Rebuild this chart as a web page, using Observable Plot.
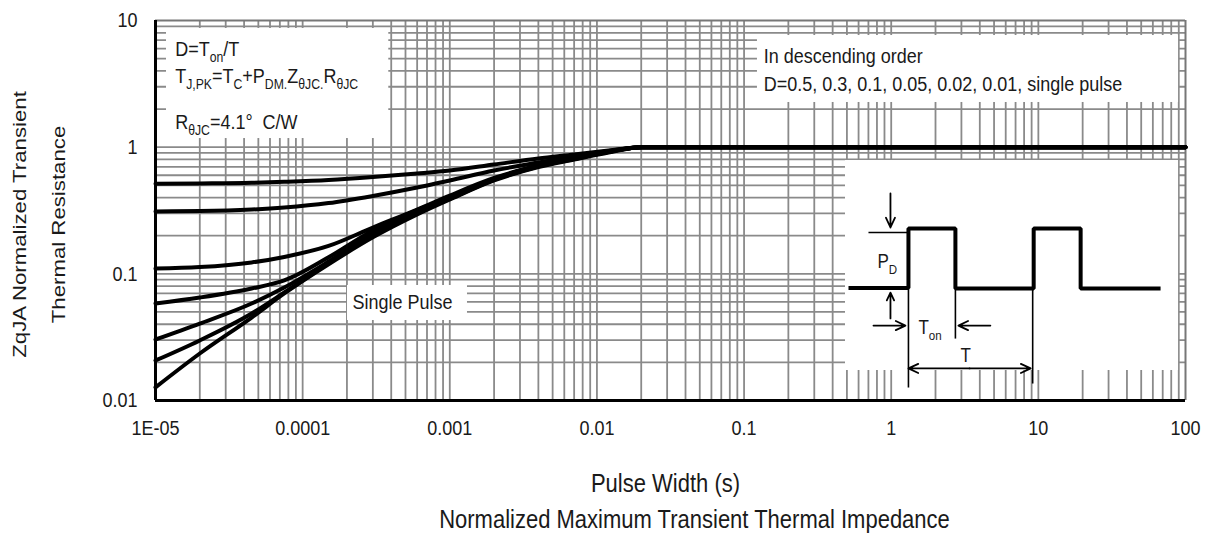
<!DOCTYPE html>
<html>
<head>
<meta charset="utf-8">
<script src="https://cdn.jsdelivr.net/npm/d3@7"></script>
<script src="https://cdn.jsdelivr.net/npm/@observablehq/plot@0.6"></script>
<style>
  html, body { margin: 0; padding: 0; background: #fff; overflow: hidden; }
  #chart { position: relative; width: 1208px; height: 533px; overflow: hidden; }
  #chart svg { display: block; }
  #chart svg text { white-space: pre; }
  #caption {
    position: absolute; left: 0; top: 505px; width: 1389px; text-align: center;
    font: 22px "Liberation Sans", Arial, Helvetica, sans-serif; color: #1a1a1a;
    line-height: 30px; transform: scaleY(1.17); transform-origin: 50% 50%; white-space: nowrap;
  }
</style>
</head>
<body>
<div id="chart"></div>
<script>
// ---------- data ----------
const xTicks = [1e-5, 1e-4, 1e-3, 1e-2, 1e-1, 1, 10, 100];
const xTickLabels = ["1E-05", "0.0001", "0.001", "0.01", "0.1", "1", "10", "100"];
const yTicks = [0.01, 0.1, 1, 10];
const yTickLabels = ["0.01", "0.1", "1", "10"];

const pulseWidth = [1e-5, 2e-5, 4.5e-5, 7.5e-5, 1.5e-4, 3e-4, 6e-4, 1e-3, 2e-3, 4e-3, 7e-3, 1.2e-2, 2e-2, 3e-2, 100];
const seriesNames = ["D=0.5", "D=0.3", "D=0.1", "D=0.05", "D=0.02", "D=0.01", "Single pulse"];
const zD050 = [0.514, 0.517, 0.523, 0.533, 0.551, 0.581, 0.620, 0.655, 0.730, 0.814, 0.875, 0.941, 1, 1, 1];
const zD030 = [0.311, 0.313, 0.322, 0.334, 0.362, 0.412, 0.480, 0.546, 0.655, 0.757, 0.844, 0.933, 1, 1, 1];
const zD010 = [0.110, 0.113, 0.123, 0.136, 0.166, 0.232, 0.322, 0.415, 0.571, 0.717, 0.829, 0.924, 1, 1, 1];
const zD005 = [0.0583, 0.0650, 0.0766, 0.0886, 0.135, 0.220, 0.319, 0.401, 0.561, 0.717, 0.821, 0.924, 1, 1, 1];
const zD002 = [0.0303, 0.0405, 0.0583, 0.0780, 0.125, 0.208, 0.311, 0.393, 0.556, 0.710, 0.814, 0.920, 1, 1, 1];
const zD001 = [0.0207, 0.0298, 0.0486, 0.0712, 0.121, 0.201, 0.302, 0.390, 0.551, 0.704, 0.807, 0.916, 1, 1, 1];
const zSingle = [0.0127, 0.0235, 0.0452, 0.0700, 0.119, 0.194, 0.294, 0.386, 0.546, 0.697, 0.799, 0.908, 1, 1, 1];
const seriesValues = [zD050, zD030, zD010, zD005, zD002, zD001, zSingle];

// annotation texts (_{...} = subscript)
const noteLeft = ["D=T_{on}/T", "T_{J,PK}=T_{C}+P_{DM.}Z_{θJC.}R_{θJC}", "R_{θJC}=4.1°  C/W"];
const noteRight = ["In descending order", "D=0.5, 0.3, 0.1, 0.05, 0.02, 0.01, single pulse"];
const singlePulseLabel = "Single Pulse";
const xTitle = "Pulse Width (s)";
const yTitle = ["ZqJA Normalized Transient", "Thermal Resistance"];
const captionText = "Normalized Maximum Transient Thermal Impedance";

// ---------- layout (annotation placement, in data units of the chart) ----------
const K = 1.17; // vertical stretch of the lettering in the reference
const fontFamily = '"Liberation Sans", Arial, Helvetica, sans-serif';

const xGrid = d3.range(-5, 2).flatMap(e => d3.range(1, 10).map(m => +(m * 10 ** e).toPrecision(3)));
const yGrid = d3.range(-2, 1).flatMap(e => d3.range(1, 10).map(m => +(m * 10 ** e).toPrecision(3)));

const boxes = [
  {x1: 1.188e-5, x2: 3.85e-4, y1: 8.65, y2: 1.17},     // top-left formulas
  {x1: 0.1233, x2: 89.7, y1: 7.61, y2: 2.253},         // top-right legend text
  {x1: 0.489, x2: 89.7, y1: 0.785, y2: 0.01725},       // inset
  {x1: 2.018e-4, x2: 1.319e-3, y1: 0.0809, y2: 0.0428} // "Single Pulse"
];
const inset = boxes[2];
const lx = u => 10 ** (Math.log10(inset.x1) + u / 100 * (Math.log10(inset.x2) - Math.log10(inset.x1)));
const ly = v => 10 ** (Math.log10(inset.y1) + v / 100 * (Math.log10(inset.y2) - Math.log10(inset.y1)));

const waveU = [0.9, 18.9, 18.9, 33.0, 33.0, 56.5, 56.5, 70.6, 70.6, 94.6];
const waveV = [60.7, 60.7, 32.4, 32.4, 60.9, 60.9, 32.4, 32.4, 60.9, 60.9];
const insetWave = waveU.map((u, i) => ({x: lx(u), y: ly(waveV[i])}));
const insetLinks = [
  [6.9, 34.3, 18.6, 34.3], [18.9, 61, 18.9, 108.1], [33.0, 61, 33.0, 84.8], [56.2, 61, 56.2, 106.2]
].map(([u1, v1, u2, v2]) => ({x1: lx(u1), y1: ly(v1), x2: lx(u2), y2: ly(v2)}));
const insetArrows = [
  [13.5, 15.7, 13.5, 31.9], [13.5, 75.2, 13.5, 62.9], [8.4, 78.6, 18.0, 78.6],
  [43.5, 78.6, 33.9, 78.6], [37.25, 99, 18.9, 99], [37.25, 99, 55.6, 99]
].map(([u1, v1, u2, v2]) => ({x1: lx(u1), y1: ly(v1), x2: lx(u2), y2: ly(v2)}));
const insetTexts = [
  {u: 9.6, v: 48.3, text: "P_{D}"}, {u: 21.9, v: 79.8, text: "T_{on}"}, {u: 34.5, v: 92.9, text: "T"}
].map(d => ({x: lx(d.u), y: ly(d.v), text: d.text}));

const noteRows = [
  {x: 1.36e-5, y: 5.90, text: noteLeft[0]},
  {x: 1.36e-5, y: 3.61, text: noteLeft[1]},
  {x: 1.36e-5, y: 1.58, text: noteLeft[2]},
  {x: 0.1361, y: 5.20, text: noteRight[0]},
  {x: 0.1361, y: 3.125, text: noteRight[1]},
  {x: 2.18e-4, y: 0.0594, text: singlePulseLabel}
];

const rows = seriesNames.flatMap((s, j) => pulseWidth.map((t, i) => ({series: s, t, z: seriesValues[j][i]})));

// ---------- chart ----------
const grey = "#8a8a8a";
const svg = Plot.plot({
  width: 1208, height: 505,
  marginLeft: 155, marginRight: 23, marginTop: 20, marginBottom: 105,
  x: {type: "log", domain: [1e-5, 100], axis: null},
  y: {type: "log", domain: [0.01, 10], axis: null},
  style: {fontFamily, fontSize: "18px", color: "#1a1a1a", background: "#fff", overflow: "visible"},
  marks: [
    Plot.ruleX(xGrid, {stroke: grey, strokeWidth: 1.8}),
    Plot.ruleY(yGrid, {stroke: grey, strokeWidth: 1.8}),
    Plot.ruleX([100], {stroke: "#777", strokeWidth: 2}),
    Plot.ruleY([10], {stroke: "#777", strokeWidth: 2}),
    Plot.rect(boxes, {x1: "x1", x2: "x2", y1: "y1", y2: "y2", fill: "#fff"}),
    Plot.line(rows, {x: "t", y: "z", z: "series", stroke: "#000", strokeWidth: 4, curve: "monotone-x"}),
    Plot.ruleX([1e-5], {stroke: "#000", strokeWidth: 3}),
    Plot.ruleY([0.01], {stroke: "#000", strokeWidth: 3}),
    // inset drawing
    Plot.line(insetWave, {x: "x", y: "y", stroke: "#000", strokeWidth: 4, strokeLinejoin: "miter", strokeLinecap: "butt"}),
    Plot.link(insetLinks, {x1: "x1", y1: "y1", x2: "x2", y2: "y2", stroke: "#000", strokeWidth: 1.6}),
    Plot.arrow(insetArrows, {x1: "x1", y1: "y1", x2: "x2", y2: "y2", stroke: "#000", strokeWidth: 1.8, headLength: 9, headAngle: 50}),
    Plot.text(insetTexts, {x: "x", y: "y", text: "text", textAnchor: "start", lineAnchor: "middle", fontSize: 17, fill: "#1a1a1a"}),
    // notes
    Plot.text(noteRows, {x: "x", y: "y", text: "text", textAnchor: "start", lineAnchor: "middle", fontSize: 18, fill: "#1a1a1a"}),
    // tick labels
    Plot.text(xTicks, {x: d => d, text: (d, i) => xTickLabels[i], frameAnchor: "bottom", dy: 28, textAnchor: "middle", lineAnchor: "middle", fontSize: 18, fill: "#1a1a1a"}),
    Plot.text(yTicks, {y: d => d, text: (d, i) => yTickLabels[i], frameAnchor: "left", dx: -18, textAnchor: "end", lineAnchor: "middle", fontSize: 18, fill: "#1a1a1a"}),
    // axis titles
    Plot.text([xTitle], {text: d => d, frameAnchor: "bottom", dx: -5, dy: 83, textAnchor: "middle", lineAnchor: "middle", fontSize: 22, fill: "#1a1a1a"}),
    Plot.text([yTitle[0]], {text: d => d, frameAnchor: "left", rotate: -90, dx: -136, dy: 14, textAnchor: "middle", lineAnchor: "middle", fontSize: 19, fill: "#1a1a1a"}),
    Plot.text([yTitle[1]], {text: d => d, frameAnchor: "left", rotate: -90, dx: -97, dy: 14, textAnchor: "middle", lineAnchor: "middle", fontSize: 19, fill: "#1a1a1a"})
  ]
});

// rich text: subscripts written as _{...}
d3.select(svg).selectAll("text").each(function () {
  const t = this.textContent;
  if (!t.includes("_{")) return;
  const el = d3.select(this);
  el.text("");
  const parts = t.split(/(_\{[^}]*\})/);
  let shifted = false;
  for (const p of parts) {
    if (!p) continue;
    if (p.startsWith("_{")) {
      el.append("tspan").attr("font-size", "0.68em").attr("dy", shifted ? null : 5).text(p.slice(2, -1));
      shifted = true;
    } else {
      const ts = el.append("tspan").text(p);
      if (shifted) { ts.attr("dy", -5); shifted = false; }
    }
  }
});

// stretch lettering vertically like the reference
d3.select(svg).selectAll("text").each(function () {
  const tr = this.getAttribute("transform");
  if (tr) {
    const rotated = /rotate/.test(tr);
    this.setAttribute("transform", tr + (rotated ? ` scale(${K},1)` : ` scale(1,${K})`));
  } else {
    const ax = +(this.getAttribute("x") || 0), ay = +(this.getAttribute("y") || 0);
    this.setAttribute("transform", `translate(${ax},${ay}) scale(1,${K}) translate(${-ax},${-ay})`);
  }
});

const host = document.getElementById("chart");
host.appendChild(svg);
const cap = document.createElement("div");
cap.id = "caption";
cap.textContent = captionText;
host.appendChild(cap);
</script>
</body>
</html>
